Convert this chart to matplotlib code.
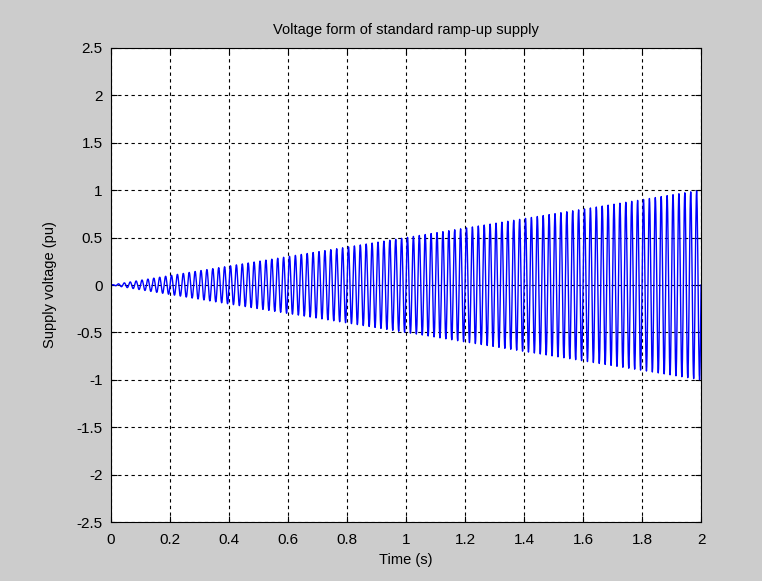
import numpy as np
import matplotlib
matplotlib.use("Agg")
import matplotlib.pyplot as plt

# Signal parameters
duration_s = 2.0        # time span of the ramp
final_amplitude = 1.0   # pu reached at end of ramp
supply_freq_hz = 50.0   # oscillation frequency (~10 cycles per 0.2 s)
sample_step = 1e-3

xticks = [0, 0.2, 0.4, 0.6, 0.8, 1, 1.2, 1.4, 1.6, 1.8, 2]
xtick_labels = ["0", "0.2", "0.4", "0.6", "0.8", "1", "1.2", "1.4", "1.6", "1.8", "2"]
yticks = [-2.5, -2, -1.5, -1, -0.5, 0, 0.5, 1, 1.5, 2, 2.5]
ytick_labels = ["-2.5", "-2", "-1.5", "-1", "-0.5", "0", "0.5", "1", "1.5", "2", "2.5"]

t = np.arange(0, duration_s + sample_step / 2, sample_step)
v = final_amplitude * (t / duration_s) * np.sin(2 * np.pi * supply_freq_hz * t)

plt.rcParams['font.family'] = ['Liberation Sans', 'DejaVu Sans']
fig = plt.figure(figsize=(7.62, 5.81), dpi=100, facecolor='#cccccc')
ax = fig.add_axes([0.1457, 0.1015, 0.7743, 0.8159])
ax.set_facecolor('white')
ax.plot(t, v, color='#0000ff', linewidth=1.0)
ax.set_xlim(0, 2)
ax.set_ylim(-2.5, 2.5)
ax.set_xticks(xticks)
ax.set_xticklabels(xtick_labels)
ax.set_yticks(yticks)
ax.set_yticklabels(ytick_labels)
ax.grid(True, color='black', linestyle=(0, (3, 3)), linewidth=0.8)
ax.tick_params(direction='in', top=True, right=True, length=4, labelsize=11, colors='black')
ax.tick_params(axis='x', pad=8)
ax.tick_params(axis='y', pad=6)
for s in ax.spines.values():
    s.set_color('black')
    s.set_linewidth(0.8)
ax.set_title('Voltage form of standard ramp-up supply', fontsize=10.5, pad=10)
ax.set_xlabel('Time (s)', fontsize=10.5, labelpad=4)
ax.set_ylabel('Supply voltage (pu)', fontsize=10.5, labelpad=14)
fig.savefig('out.png', dpi=100, facecolor=fig.get_facecolor())
